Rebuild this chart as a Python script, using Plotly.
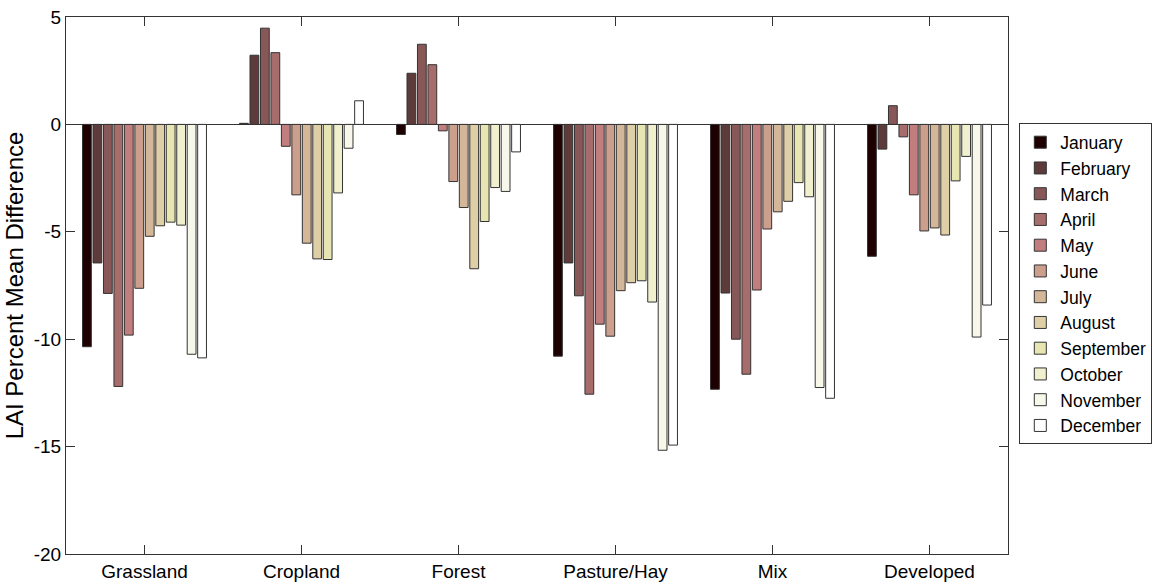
import numpy as np
import plotly.graph_objects as go

categories = ["Grassland", "Cropland", "Forest", "Pasture/Hay", "Mix", "Developed"]
months = ["January", "February", "March", "April", "May", "June", "July",
          "August", "September", "October", "November", "December"]

# values per land-cover class (rows) for each month (columns)
grassland = [-10.35, -6.45, -7.87, -12.2, -9.81, -7.63, -5.21, -4.72, -4.55, -4.69, -10.7, -10.87]
cropland = [0.05, 3.22, 4.48, 3.34, -1.02, -3.28, -5.53, -6.26, -6.29, -3.19, -1.11, 1.1]
forest = [-0.47, 2.38, 3.73, 2.78, -0.30, -2.66, -3.87, -6.72, -4.52, -2.94, -3.12, -1.28]
pasture = [-10.79, -6.45, -7.98, -12.56, -9.30, -9.86, -7.74, -7.37, -7.28, -8.27, -15.17, -14.93]
mix = [-12.33, -7.85, -10.0, -11.63, -7.71, -4.87, -4.07, -3.58, -2.71, -3.37, -12.25, -12.75]
developed = [-6.14, -1.15, 0.87, -0.58, -3.28, -4.96, -4.82, -5.15, -2.63, -1.49, -9.90, -8.41]

groups = [grassland, cropland, forest, pasture, mix, developed]

y_tickvals = [5, 0, -5, -10, -15, -20]
y_ticktext = ["5", "0", "-5", "-10", "-15", "-20"]


def pink_colormap(n_series, m=64):
    i = np.arange(1, m + 1)
    gray = (i - 1) / (m - 1)
    k = int(3 * m / 8)
    r = np.where(i <= k, i / k, 1.0)
    g = np.clip((i - k) / k, 0, 1)
    b = np.clip((i - 2 * k) / (m - 2 * k), 0, 1)
    cmap = np.sqrt((2 * np.stack([gray, gray, gray], 1) + np.stack([r, g, b], 1)) / 3)
    cols = []
    for s in range(n_series):
        idx = min(int(np.floor(s / (n_series - 1) * m)), m - 1)
        c = (cmap[idx] * 255).round().astype(int)
        cols.append("rgb(%d,%d,%d)" % tuple(c))
    return cols


colors = pink_colormap(len(months))

fig = go.Figure()
for j, mname in enumerate(months):
    fig.add_trace(go.Bar(
        x=categories,
        y=[grp[j] for grp in groups],
        name=mname,
        marker=dict(color=colors[j], line=dict(color="#333333", width=1)),
    ))

font_family = "Liberation Sans, Arial, sans-serif"
fig.update_layout(
    width=1165, height=582,
    margin=dict(l=66, r=157, t=17, b=28, autoexpand=False),
    paper_bgcolor="white", plot_bgcolor="white",
    barmode="group", bargap=0.2, bargroupgap=0.16,
    font=dict(family=font_family, size=19, color="black"),
    showlegend=True,
    legend=dict(
        x=1.012, y=0.802, xanchor="left", yanchor="top",
        bordercolor="#333333", borderwidth=1,
        font=dict(size=17.5), tracegroupgap=0,
        bgcolor="white",
    ),
    xaxis=dict(
        range=[-0.5, 5.5], showline=True, mirror="ticks", linecolor="#333333",
        ticks="inside", ticklen=9, tickcolor="#333333", showgrid=False,
        tickfont=dict(size=19), automargin=False,
    ),
    yaxis=dict(
        range=[-20, 5], tickvals=y_tickvals, ticktext=y_ticktext,
        showline=True, mirror="ticks", linecolor="#333333",
        ticks="inside", ticklen=9, tickcolor="#333333", showgrid=False,
        zeroline=True, zerolinecolor="#333333", zerolinewidth=1,
        title=dict(text="LAI Percent Mean Difference", font=dict(size=24), standoff=3),
        tickfont=dict(size=19), automargin=False,
    ),
)

fig.write_html("out.html")
